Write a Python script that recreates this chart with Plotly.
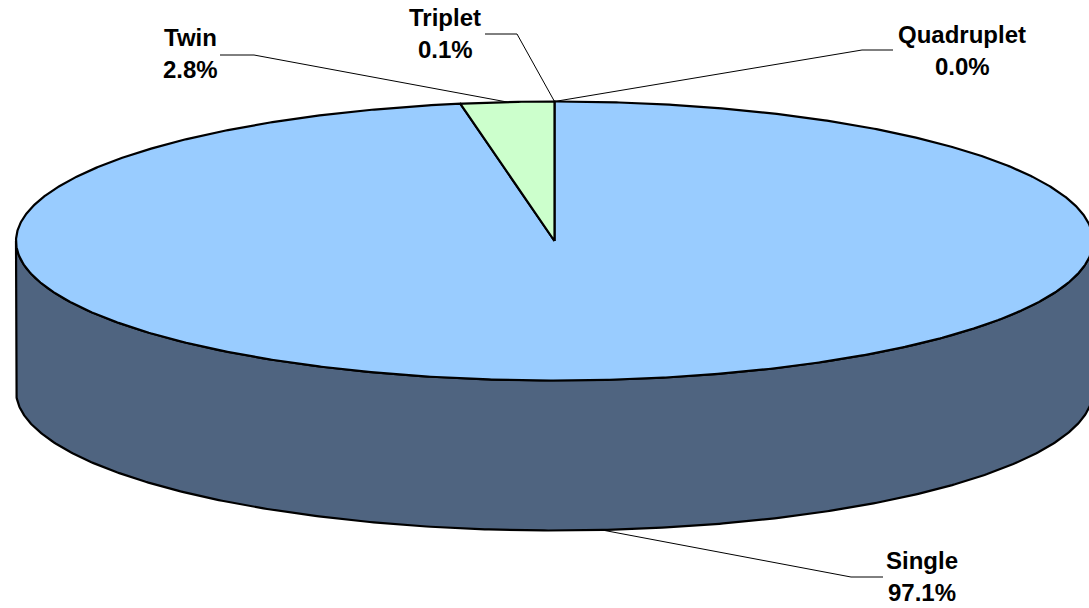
import numpy as np
import plotly.graph_objects as go

categories = ["Single", "Twin", "Triplet", "Quadruplet"]
shares = [97.1, 2.8, 0.1, 0.0]
labels = ["97.1%", "2.8%", "0.1%", "0.0%"]

W, H = 1089, 608
CX, CY, RX, RY, DEPTH = 554.5, 241.0, 538.5, 139.5, 150.0
TOP = "#99CCFF"
SIDE = "#4F6480"
GREEN = "#CCFFCC"
LINE = "#000000"

# label centre (x, y of first line, y of second line) and leader elbow segment (pixels)
label_pos = [(922, 560, 592), (190, 37, 69), (445, 17, 49), (962, 34, 66)]
elbows = [[(851, 577), (883, 577)], [(254, 55), (220, 55)], [(517, 34), (485, 34)], [(862, 50), (893, 50)]]


def rim(angle, dy=0.0):
    a = np.asarray(angle, dtype=float)
    return CX + RX * np.sin(a), CY - RY * np.cos(a) + dy


fig = go.Figure()

# side wall: front half of rim, extruded downward
t = np.linspace(np.pi / 2, 3 * np.pi / 2, 400)
xt, yt = rim(t)
xb, yb = rim(t[::-1], DEPTH)
fig.add_trace(go.Scatter(
    x=np.r_[xt, xb, xt[0]], y=np.r_[yt, yb, yt[0]], mode="lines", fill="toself",
    fillcolor=SIDE, line=dict(color=LINE, width=2.2), hoverinfo="skip", showlegend=False))

# Angles: the Twin slice ends at 12 o'clock; the hair-thin Triplet and
# Quadruplet slices sit on that boundary and do not show as separate areas.
total = sum(shares)
twin_start = 2 * np.pi * (1 - shares[1] / total)
spans = [(0.0, twin_start, TOP, categories[0]), (twin_start, 2 * np.pi, GREEN, categories[1])]
for a0, a1, fill, name in spans:
    t = np.linspace(a0, a1, max(3, int((a1 - a0) * 200)))
    x, y = rim(t)
    fig.add_trace(go.Scatter(
        x=np.r_[CX, x, CX], y=np.r_[CY, y, CY], mode="lines", fill="toself",
        fillcolor=fill, line=dict(color=LINE, width=2.2), name=name,
        hoverinfo="name", showlegend=False))

# leader lines from each slice's mid-angle
mids = [twin_start / 2, (twin_start + 2 * np.pi) / 2, 2 * np.pi, 2 * np.pi]
for i, mid in enumerate(mids):
    ax, ay = rim(mid, DEPTH if np.cos(mid) < 0 else 0.0)
    pts = [(float(ax), float(ay))] + elbows[i]
    fig.add_trace(go.Scatter(
        x=[p[0] for p in pts], y=[p[1] for p in pts], mode="lines",
        line=dict(color=LINE, width=1), hoverinfo="skip", showlegend=False))

font = dict(family="Liberation Sans, Arial, sans-serif", size=24, color="#000000")
for name, lab, (lx, y1, y2) in zip(categories, labels, label_pos):
    for text, ly in ((name, y1), (lab, y2)):
        fig.add_annotation(
            x=lx, y=ly, text=f"<b>{text}</b>", showarrow=False,
            xanchor="center", yanchor="middle", align="center", font=font)

axis = dict(visible=False, fixedrange=True, showgrid=False, zeroline=False)
fig.update_layout(
    width=W, height=H, margin=dict(l=0, r=0, t=0, b=0), autosize=False,
    paper_bgcolor="#FFFFFF", plot_bgcolor="#FFFFFF", showlegend=False,
    xaxis=dict(axis, range=[0, W]), yaxis=dict(axis, range=[H, 0]))

fig.write_html("out.html", config={"displayModeBar": False},
               post_script="document.body.style.margin='0';")
